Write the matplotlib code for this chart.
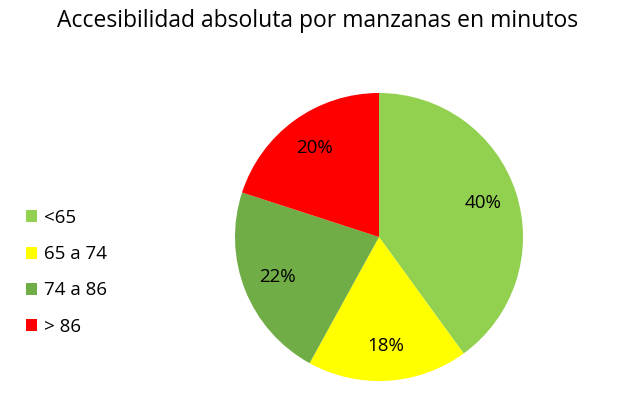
import matplotlib
matplotlib.use("Agg")
import matplotlib.pyplot as plt
from matplotlib.patches import Patch

plt.rcParams['font.family'] = ['Open Sans', 'DejaVu Sans']

categories = ["<65", "65 a 74", "74 a 86", "> 86"]
values = [40, 18, 22, 20]
colors = ["#92D050", "#FFFF00", "#70AD47", "#FF0000"]
title = "Accesibilidad absoluta por manzanas en minutos"

W, H = 631, 399
fig = plt.figure(figsize=(W / 100, H / 100), dpi=100)
cx, cy, r = 379, 237, 144
ax = fig.add_axes([(cx - r) / W, (H - cy - r) / H, 2 * r / W, 2 * r / H])
wedges, texts, autotexts = ax.pie(values, colors=colors, startangle=90, counterclock=False,
                                  autopct=lambda p: f"{p:.0f}%", pctdistance=0.76,
                                  textprops=dict(fontsize=13.5, color="black"))
ax.set_aspect('equal')
ax.set_xlim(-1, 1)
ax.set_ylim(-1, 1)

fig.text(0.503, 0.948, title, ha='center', va='center', fontsize=16.5)

handles = [Patch(facecolor=c, edgecolor='none') for c in colors]
fig.legend(handles, categories, loc='upper left', bbox_to_anchor=(0.029, 0.495),
           frameon=False, fontsize=13.5, handlelength=0.62, handleheight=0.62,
           handletextpad=0.35, labelspacing=0.97, borderaxespad=0)

fig.savefig("out.png", dpi=100)
